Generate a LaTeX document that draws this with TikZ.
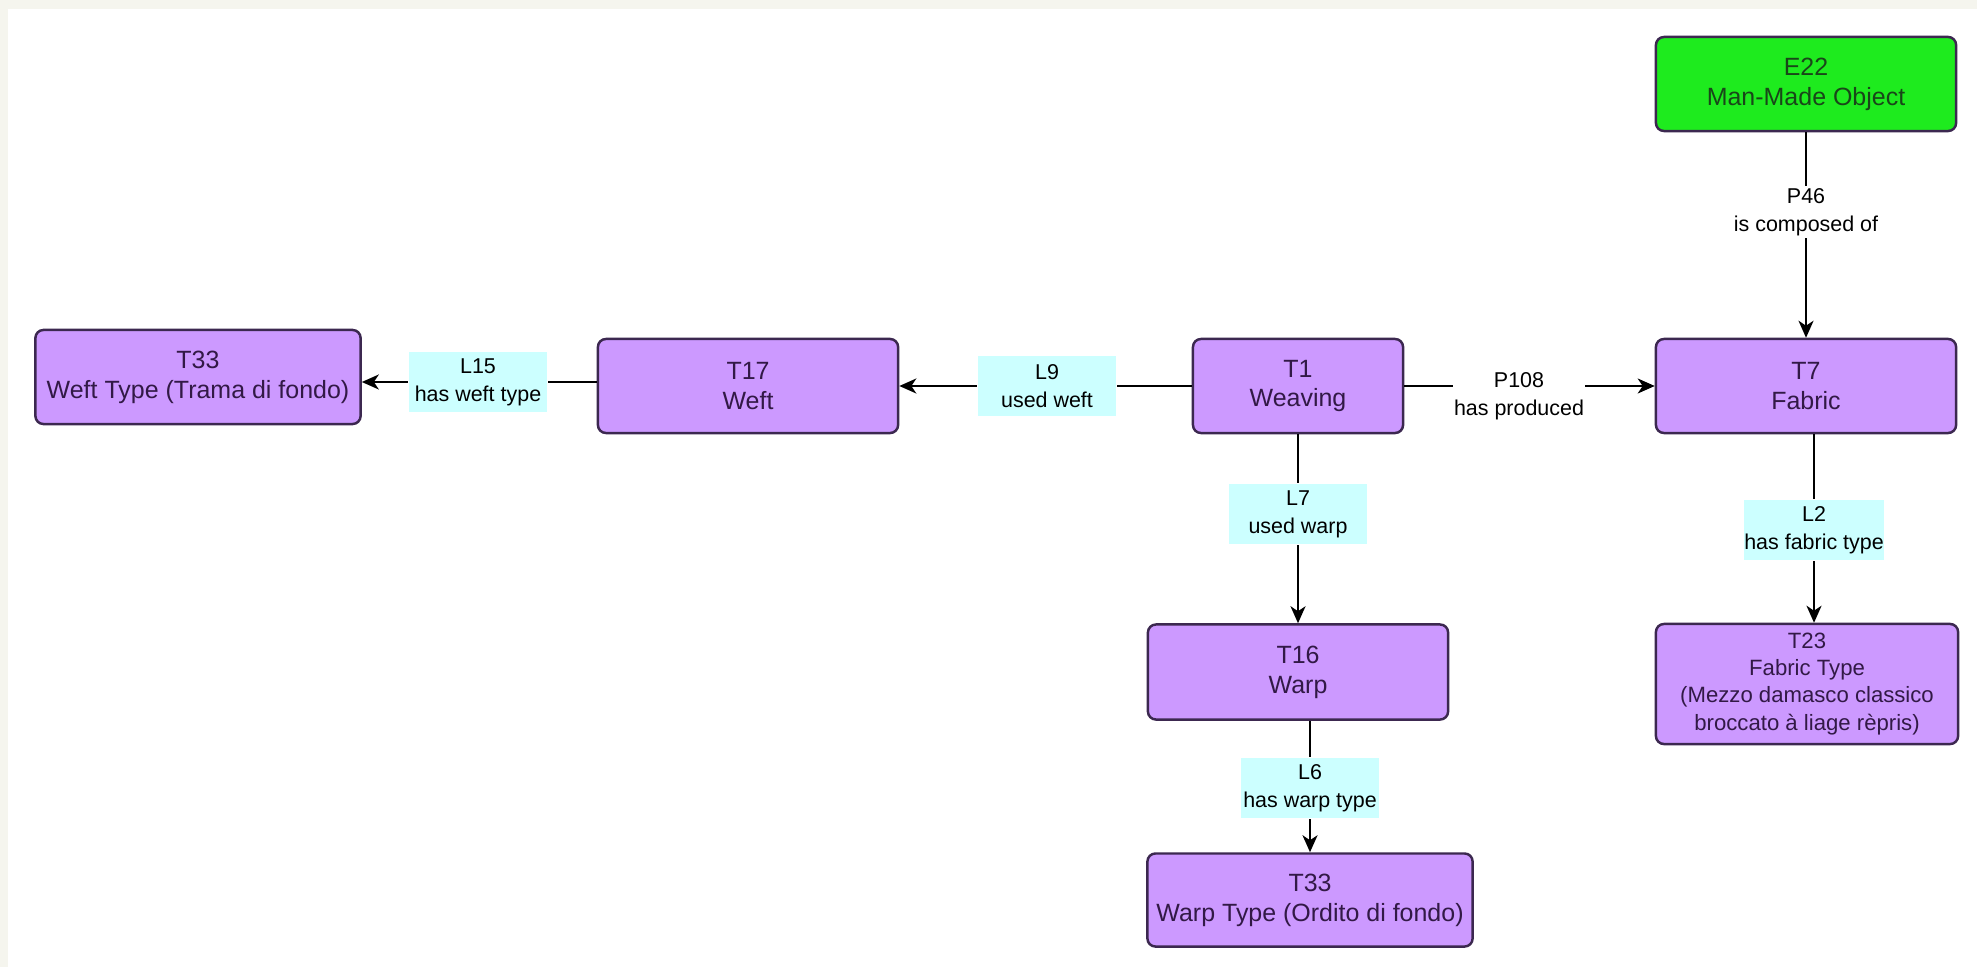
\documentclass[tikz,border=0pt]{standalone}
\usepackage{fontspec}
\setmainfont{Liberation Sans}
\usetikzlibrary{arrows.meta}
\definecolor{classfill}{RGB}{204,153,255}
\definecolor{classline}{RGB}{60,40,80}
\definecolor{classtext}{RGB}{50,25,70}
\definecolor{entfill}{RGB}{30,235,30}
\definecolor{enttext}{RGB}{25,70,25}
\definecolor{linkfill}{RGB}{204,255,255}
\definecolor{bgframe}{RGB}{245,245,238}

\begin{document}
\begin{tikzpicture}[x=0.01cm, y=-0.01cm, line width=0.6pt, >={Stealth[length=1.7mm,width=1.5mm,inset=0.5mm]},
    cls/.style = {draw=classline, line width=0.7pt, fill=classfill, text=classtext, rounded corners=0.8mm, align=center, inner sep=0pt, font=\fontsize{7.1}{8.5}\selectfont},
    ent/.style = {cls, fill=entfill, text=enttext},
    link/.style = {fill=linkfill, align=center, inner sep=0pt, minimum width=1.38cm, minimum height=0.6cm, font=\fontsize{6.1}{8}\selectfont},
    prop/.style = {link, fill=white, minimum width=1cm, minimum height=0.5cm}]
    \useasboundingbox (0,0) rectangle (1977,967);
    \fill[bgframe] (0,0) rectangle (1977,9);
    \fill[bgframe] (0,0) rectangle (8,967);
    \node[ent, minimum width=3cm, minimum height=0.94cm] (e22) at (1806,84) {E22\\Man-Made Object};
    \node[cls, minimum width=3cm, minimum height=0.94cm] (t7) at (1806,386) {T7\\Fabric};
    \node[cls, minimum width=3.02cm, minimum height=1.2cm, font=\fontsize{6.3}{7.7}\selectfont] (t23) at (1807,684) {T23\\Fabric Type\\(Mezzo damasco classico\\broccato à liage rèpris)};
    \node[cls, minimum width=2.1cm, minimum height=0.94cm] (t1) at (1298,386) {T1\\Weaving};
    \node[cls, minimum width=3cm, minimum height=0.94cm] (t17) at (748,386) {T17\\Weft};
    \node[cls, minimum width=3.25cm, minimum height=0.94cm] (t33f) at (198,377) {T33\\Weft Type (Trama di fondo)};
    \node[cls, minimum width=3cm, minimum height=0.95cm] (t16) at (1298,672) {T16\\Warp};
    \node[cls, minimum width=3.25cm, minimum height=0.93cm] (t33w) at (1310,900) {T33\\Warp Type (Ordito di fondo)};
    \node[prop] (p46) at (1806,212) {P46\\is composed of};
    \node[prop] (p108) at (1519,396) {P108\\has produced};
    \node[link] (l15) at (478,382) {L15\\has weft type};
    \node[link] (l9) at (1047,386) {L9\\used weft};
    \node[link] (l7) at (1298,514) {L7\\used warp};
    \node[link] (l6) at (1310,788) {L6\\has warp type};
    \node[link] (l2) at (1814,530) {L2\\has fabric type};
    \draw (e22) to (p46);
    \draw[->] (p46) to (t7);
    \draw (t1) to (p108.west |- t1);
    \draw[->] (p108.east |- t7) to (t7);
    \draw (t1) to (l9);
    \draw[->] (l9) to (t17);
    \draw (t17.west |- l15) to (l15);
    \draw[->] (l15) to (t33f.east |- l15);
    \draw (t1) to (l7);
    \draw[->] (l7) to (t16);
    \draw (t16.south -| l6) to (l6);
    \draw[->] (l6) to (t33w);
    \draw (t7.south -| l2) to (l2);
    \draw[->] (l2) to (t23.north -| l2);
\end{tikzpicture}
\end{document}
